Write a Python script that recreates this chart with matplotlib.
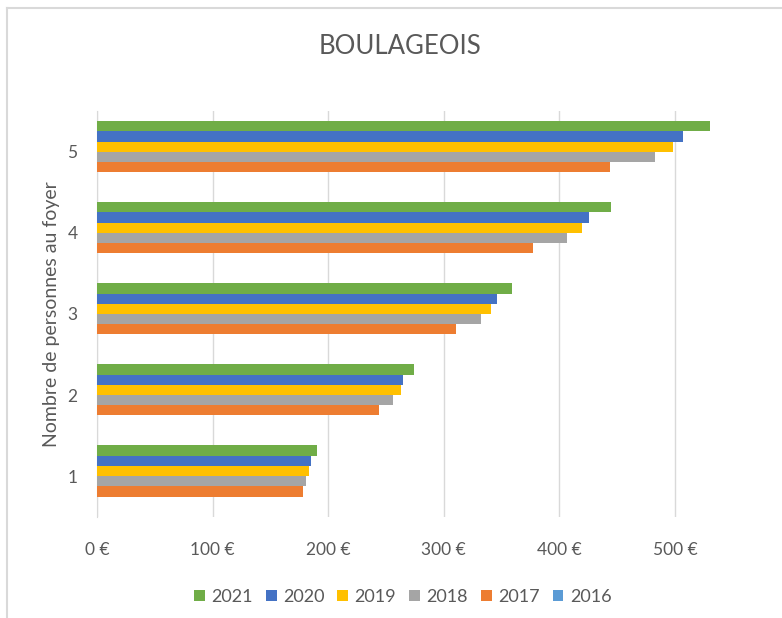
import numpy as np
import matplotlib.pyplot as plt
from matplotlib.lines import Line2D
from matplotlib.patches import Patch

plt.rcParams['font.family'] = ['Lato', 'DejaVu Sans']

categories = [1, 2, 3, 4, 5]
years = ['2016', '2017', '2018', '2019', '2020', '2021']
v2016 = [0, 0, 0, 0, 0]
v2017 = [178, 244, 311, 377, 444]
v2018 = [181, 256, 332, 407, 483]
v2019 = [183, 263, 341, 420, 498]
v2020 = [185, 265, 346, 426, 507]
v2021 = [190, 274, 359, 445, 530]
series = [v2016, v2017, v2018, v2019, v2020, v2021]
colors = ['#5B9BD5', '#ED7D31', '#A5A5A5', '#FFC000', '#4472C4', '#70AD47']
xticks = [0, 100, 200, 300, 400, 500]

text_col = '#595959'

fig = plt.figure(figsize=(7.82, 6.18), dpi=100)
ax = fig.add_axes([0.124, 0.164, 0.813, 0.656])

# bars of one category: first series at the bottom, like Excel
bar_h = 0.126
n = len(series)
y = np.array(categories, dtype=float)
for i, (vals, c) in enumerate(zip(series, colors)):
    offset = (i - (n - 1) / 2) * bar_h
    ax.barh(y + offset, vals, height=bar_h, color=c, linewidth=0, zorder=3)

ax.set_xlim(0, 550)
ax.set_ylim(0.5, 5.5)
ax.set_xticks(xticks)
ax.set_xticklabels([f'{t} €' for t in xticks])
ax.set_yticks(categories)
ax.set_yticklabels([str(c) for c in categories])
ax.tick_params(axis='both', length=0, colors=text_col, labelsize=12.5)
ax.tick_params(axis='x', pad=18)
ax.tick_params(axis='y', pad=14)

ax.grid(axis='x', color='#D9D9D9', linewidth=1, zorder=0)
for s in ['top', 'right', 'bottom']:
    ax.spines[s].set_visible(False)
ax.spines['left'].set_color('#D9D9D9')

ax.set_ylabel('Nombre de personnes au foyer', fontsize=14, color=text_col, labelpad=5)
fig.text(0.512, 0.925, 'BOULAGEOIS', ha='center', va='center', fontsize=18.5, color=text_col)

handles = [Patch(facecolor=c, edgecolor='none') for c in colors][::-1]
labels = years[::-1]
fig.legend(handles, labels, loc='center', bbox_to_anchor=(0.515, 0.034), ncol=6,
           frameon=False, handlelength=0.6, handleheight=0.6, handletextpad=0.35,
           columnspacing=0.72, fontsize=13, labelcolor=text_col)

# chart border (top and left edges visible in the reference)
fig.add_artist(Line2D([0.009, 0.009], [0.0, 0.987], color='#D9D9D9', linewidth=1.5,
                      transform=fig.transFigure))
fig.add_artist(Line2D([0.009, 1.0], [0.987, 0.987], color='#D9D9D9', linewidth=1.5,
                      transform=fig.transFigure))

fig.savefig('out.png', dpi=100)
